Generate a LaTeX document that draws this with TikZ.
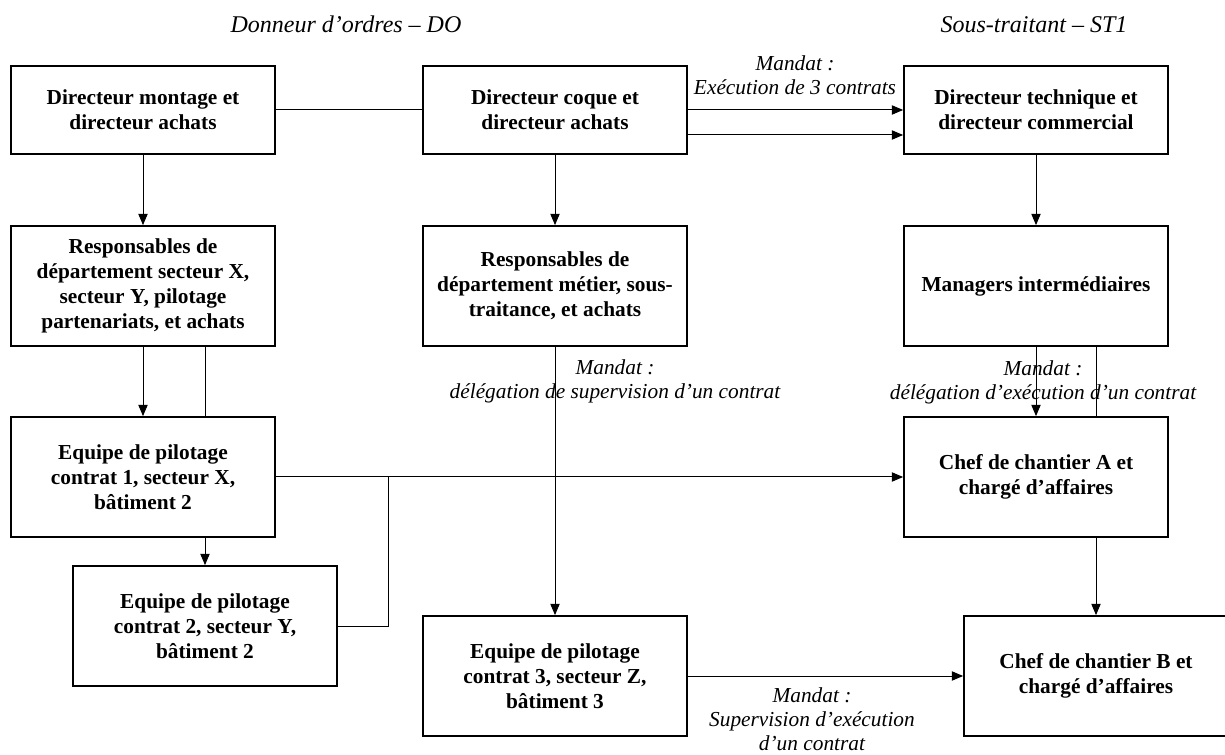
\documentclass[tikz,border=0pt]{standalone}
\usepackage{fontspec}
\setmainfont{Liberation Serif}
\usetikzlibrary{arrows.meta}

\begin{document}
\begin{tikzpicture}[x=0.75pt, y=-0.75pt]
\tikzset{boite/.style={draw, line width=1.3pt, minimum width=198pt, minimum height=90pt, align=center, inner sep=0pt, font=\fontsize{16}{18.75}\selectfont\bfseries}}
\tikzset{boitehaut/.style={boite, minimum height=66pt}}
\tikzset{etiquette/.style={align=center, inner sep=0pt, font=\fontsize{16}{18}\selectfont\itshape}}
\tikzset{titre/.style={inner sep=0pt, font=\fontsize{18}{20}\selectfont\itshape}}
\tikzset{trait/.style={line width=0.75pt}}
\tikzset{fleche/.style={trait, -{Triangle[length=8.5pt, width=7pt]}}}
\clip (0, 0) rectangle (1225, 755);
\node[titre] (T1) at (346, 24) {Donneur d’ordres – DO};
\node[titre] (T2) at (1034, 25) {Sous-traitant – ST1};
\node[boitehaut] (D1) at (143, 110) {Directeur montage et\\directeur achats};
\node[boitehaut] (D2) at (555, 110) {Directeur coque et\\directeur achats};
\node[boitehaut] (S1) at (1036, 110) {Directeur technique et\\directeur commercial};
\node[boite] (D3) at (143, 286) {Responsables de\\département secteur X,\\secteur Y, pilotage\\partenariats, et achats};
\node[boite] (D4) at (555, 286) {Responsables de\\département métier, sous-\\traitance, et achats};
\node[boite] (S2) at (1036, 286) {Managers intermédiaires};
\node[boite] (D5) at (143, 477) {Equipe de pilotage\\contrat 1, secteur X,\\bâtiment 2};
\node[boite] (D6) at (205, 626) {Equipe de pilotage\\contrat 2, secteur Y,\\bâtiment 2};
\node[boite] (S3) at (1036, 477) {Chef de chantier A et\\chargé d’affaires};
\node[boite] (D7) at (555, 676) {Equipe de pilotage\\contrat 3, secteur Z,\\bâtiment 3};
\node[boite] (S4) at (1096, 676) {Chef de chantier B et\\chargé d’affaires};
\node[etiquette] (E1) at (795, 75) {Mandat :\\Exécution de 3 contrats};
\node[etiquette] (E2) at (615, 381) {Mandat :\\délégation de supervision d’un contrat};
\node[etiquette] (E3) at (1043, 382) {Mandat :\\délégation d’exécution d’un contrat};
\node[etiquette] (E4) at (812, 719) {Mandat :\\Supervision d’exécution\\d’un contrat};
\coordinate (J1) at (388, 477);
\draw[trait] (D1) -- (D2);
\draw[fleche] (D2) -- (S1);
\draw[fleche] ([yshift=-18.75pt]D2.east) -- ([yshift=-18.75pt]S1.west);
\draw[fleche] (D1) -- (D3);
\draw[fleche] (D2) -- (D4);
\draw[fleche] (S1) -- (S2);
\draw[fleche] (D3) -- (D5);
\draw[trait] (D3.south -| D6.north) -- (D5.north -| D6.north);
\draw[fleche] (D5.south -| D6.north) -- (D6.north);
\draw[fleche] (D5) -- (S3);
\draw[trait] (D6.east) -| (J1);
\draw[fleche] (D4) -- (D7);
\draw[fleche] (S2) -- (S3);
\draw[trait] (S2.south -| S4.north) -- (S3.north -| S4.north);
\draw[fleche] (S3.south -| S4.north) -- (S4.north);
\draw[fleche] (D7) -- (S4);
\end{tikzpicture}
\end{document}
